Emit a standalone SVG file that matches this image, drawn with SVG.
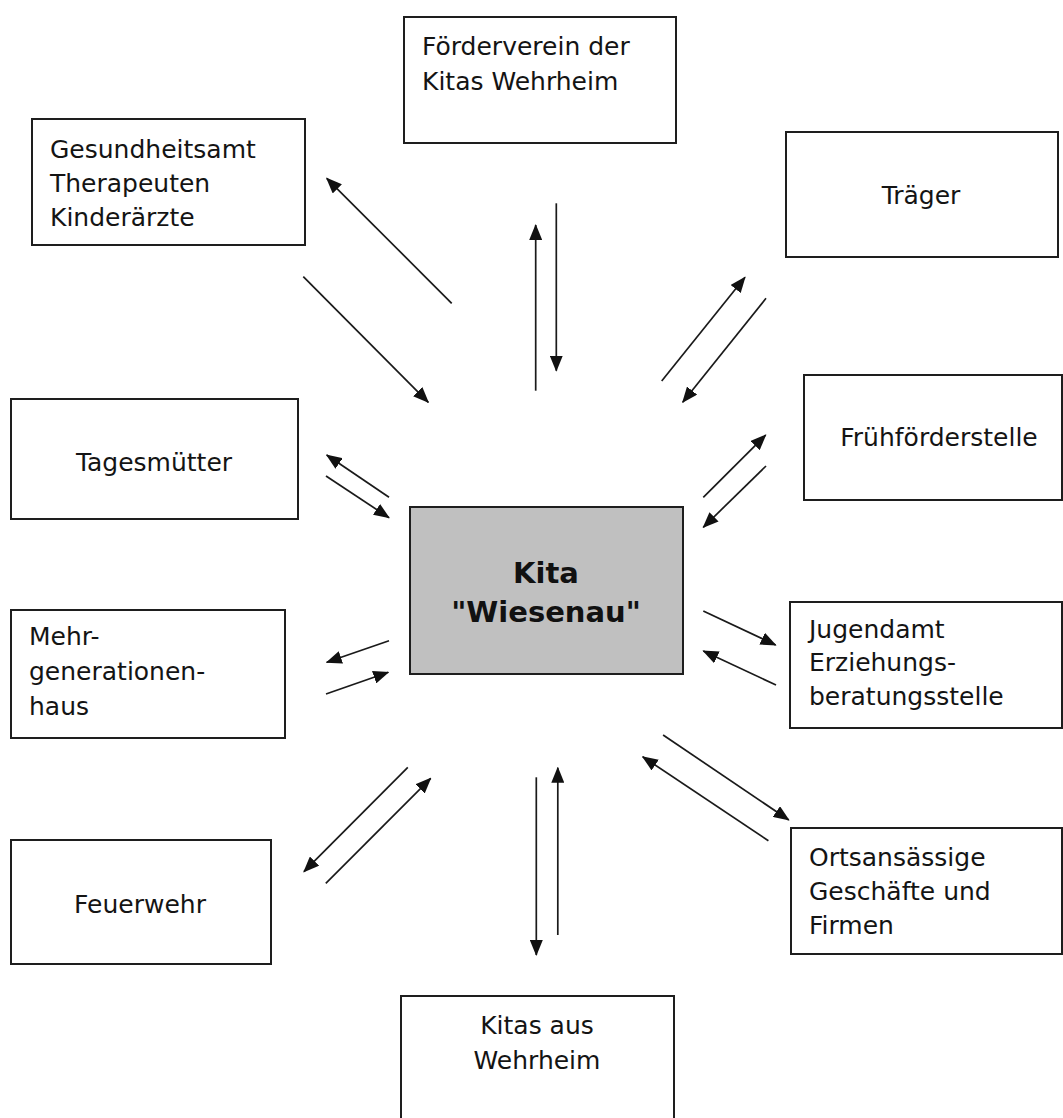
<svg xmlns="http://www.w3.org/2000/svg" width="1063" height="1118" viewBox="0 0 1063 1118">
<style>
  .box { fill: #ffffff; stroke: #1e1e1e; stroke-width: 2; }
  .center { fill: #c0c0c0; stroke: #1e1e1e; stroke-width: 2; }
  .t { font-family: "DejaVu Sans", "Liberation Sans", sans-serif; font-size: 25px; fill: #141414; }
  .m { text-anchor: middle; }
  .b { font-family: "DejaVu Sans", "Liberation Sans", sans-serif; font-size: 29px; font-weight: bold; fill: #111111; text-anchor: middle; }
  .arr { stroke: #1a1a1a; stroke-width: 1.7; fill: none; marker-end: url(#ah); }
</style>
<defs>
  <marker id="ah" markerUnits="userSpaceOnUse" markerWidth="16" markerHeight="13" refX="15" refY="6.5" orient="auto">
    <path d="M0,0 L16,6.5 L0,13 z" fill="#111111"/>
  </marker>
</defs>
<rect x="0" y="0" width="1063" height="1118" fill="#ffffff"/>

<g id="connectors">
  <line class="arr" x1="451.7" y1="303.3" x2="326.7" y2="178.3"/>
  <line class="arr" x1="303.3" y1="276.7" x2="428.3" y2="402.3"/>
  <line class="arr" x1="535.7" y1="390.7" x2="535.7" y2="225"/>
  <line class="arr" x1="556.3" y1="203.3" x2="556.3" y2="370.7"/>
  <line class="arr" x1="661.7" y1="381" x2="745" y2="277.3"/>
  <line class="arr" x1="766" y1="298.3" x2="682.7" y2="402.3"/>
  <line class="arr" x1="389" y1="497.3" x2="326.7" y2="455"/>
  <line class="arr" x1="326" y1="476" x2="389" y2="517.7"/>
  <line class="arr" x1="703.3" y1="497.3" x2="765.7" y2="435"/>
  <line class="arr" x1="766" y1="466" x2="703.3" y2="527.3"/>
  <line class="arr" x1="389" y1="640.7" x2="326.7" y2="662.3"/>
  <line class="arr" x1="326" y1="694" x2="388.3" y2="672.3"/>
  <line class="arr" x1="703.3" y1="611" x2="775.7" y2="645"/>
  <line class="arr" x1="776" y1="685" x2="703.3" y2="651"/>
  <line class="arr" x1="407.8" y1="767.3" x2="303.9" y2="871.7"/>
  <line class="arr" x1="325.8" y1="883.3" x2="430.7" y2="778.3"/>
  <line class="arr" x1="536.3" y1="777.3" x2="536.3" y2="955"/>
  <line class="arr" x1="557.8" y1="935" x2="557.8" y2="767.7"/>
  <line class="arr" x1="663.1" y1="735" x2="788.8" y2="820"/>
  <line class="arr" x1="768.4" y1="840.7" x2="642.7" y2="756.7"/>
</g>

<g id="foerderverein">
  <rect class="box" x="404" y="17" width="272" height="126"/>
  <text class="t" x="422" y="55">Förderverein der</text>
  <text class="t" x="422" y="90">Kitas Wehrheim</text>
</g>

<g id="gesundheitsamt">
  <rect class="box" x="32" y="119" width="273" height="126"/>
  <text class="t" x="50" y="158">Gesundheitsamt</text>
  <text class="t" x="50" y="192">Therapeuten</text>
  <text class="t" x="50" y="226">Kinderärzte</text>
</g>

<g id="traeger">
  <rect class="box" x="786" y="132" width="272" height="125"/>
  <text class="t m" x="921" y="204">Träger</text>
</g>

<g id="tagesmuetter">
  <rect class="box" x="11" y="399" width="287" height="120"/>
  <text class="t m" x="154" y="471">Tagesmütter</text>
</g>

<g id="fruehfoerderstelle">
  <rect class="box" x="804" y="375" width="258" height="125"/>
  <text class="t m" x="939" y="446">Frühförderstelle</text>
</g>

<g id="kita-wiesenau">
  <rect class="center" x="410" y="507" width="273" height="167"/>
  <text class="b" x="546" y="583">Kita</text>
  <text class="b" x="546" y="622">"Wiesenau"</text>
</g>

<g id="mehrgenerationenhaus">
  <rect class="box" x="11" y="610" width="274" height="128"/>
  <text class="t" x="29" y="645">Mehr-</text>
  <text class="t" x="29" y="680">generationen-</text>
  <text class="t" x="29" y="715">haus</text>
</g>

<g id="jugendamt">
  <rect class="box" x="790" y="602" width="272" height="126"/>
  <text class="t" x="809" y="638">Jugendamt</text>
  <text class="t" x="809" y="671">Erziehungs-</text>
  <text class="t" x="809" y="705">beratungsstelle</text>
</g>

<g id="feuerwehr">
  <rect class="box" x="11" y="840" width="260" height="124"/>
  <text class="t m" x="140" y="913">Feuerwehr</text>
</g>

<g id="ortsansaessige">
  <rect class="box" x="791" y="828" width="271" height="126"/>
  <text class="t" x="809" y="866">Ortsansässige</text>
  <text class="t" x="809" y="900">Geschäfte und</text>
  <text class="t" x="809" y="934">Firmen</text>
</g>

<g id="kitas-aus-wehrheim">
  <rect class="box" x="401" y="996" width="273" height="140"/>
  <text class="t m" x="537" y="1034">Kitas aus</text>
  <text class="t m" x="537" y="1069">Wehrheim</text>
</g>
</svg>
